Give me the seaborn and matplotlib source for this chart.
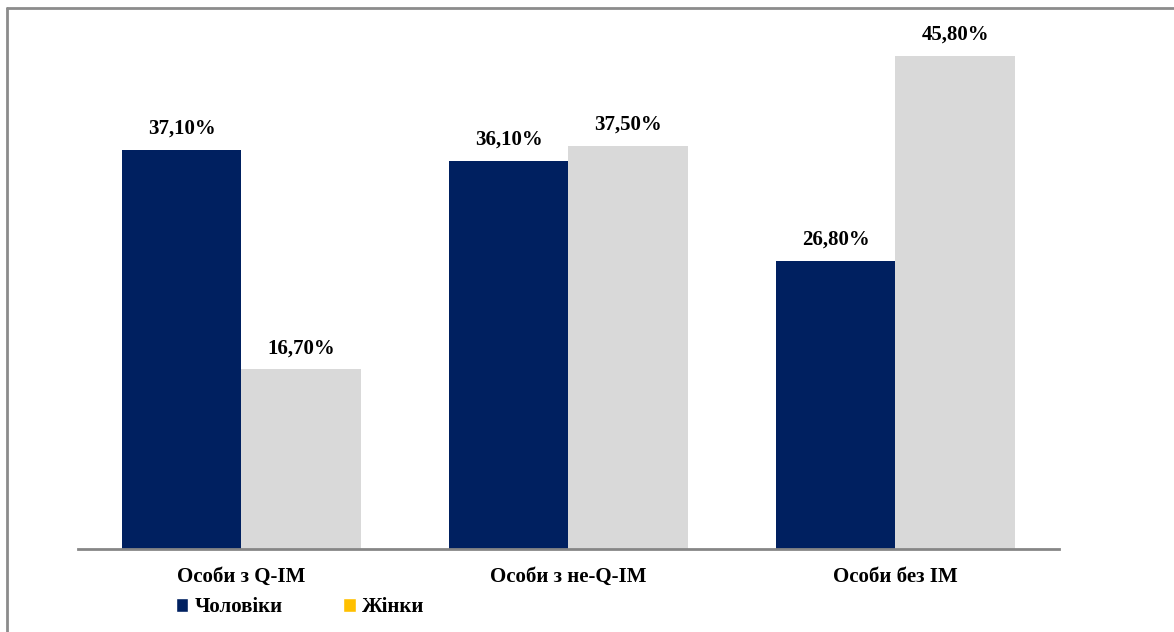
import pandas as pd
import matplotlib
matplotlib.use('Agg')
import matplotlib.pyplot as plt
import seaborn as sns
from matplotlib.patches import Patch
from matplotlib.lines import Line2D

# --- data ---
categories = ['Особи з Q-IM', 'Особи з не-Q-IM', 'Особи без IM']
men = [37.1, 36.1, 26.8]
women = [16.7, 37.5, 45.8]
series = ['Чоловіки', 'Жінки']

df = pd.DataFrame({
    'Категорія': categories * 2,
    'Стать': [series[0]] * 3 + [series[1]] * 3,
    'Частка': men + women,
})

sns.set_style('white')
plt.rcParams['font.family'] = ['Liberation Serif', 'DejaVu Serif']
plt.rcParams['font.weight'] = 'bold'
plt.rcParams['text.color'] = 'black'
plt.rcParams['xtick.color'] = 'black'

navy = '#002060'
grey = '#D9D9D9'
gold = '#FFC000'

fig = plt.figure(figsize=(11.74, 6.32), dpi=100)
ax = fig.add_axes([0.0664, 0.1313, 0.8356, 0.8513])

sns.barplot(data=df, x='Категорія', y='Частка', hue='Стать',
            palette=[navy, grey], width=0.73, gap=0, saturation=1,
            linewidth=0, legend=False, ax=ax)

for cont in ax.containers:
    ax.bar_label(cont, labels=[f'{v:.2f}%'.replace('.', ',') for v in cont.datavalues],
                 padding=8, fontsize=15, fontweight='bold', color='black')

ax.set_xlim(-0.5, 2.5)
ax.set_ylim(0, 50)
ax.set_xlabel('')
ax.set_ylabel('')
ax.set_yticks([])
ax.tick_params(axis='x', length=0, pad=13, labelsize=15, labelcolor='black')
for lbl in ax.get_xticklabels():
    lbl.set_fontweight('bold')
for s in ['top', 'right', 'left']:
    ax.spines[s].set_visible(False)
ax.spines['bottom'].set_color('#868686')
ax.spines['bottom'].set_linewidth(2)

# legend at the bottom-left
handles = [Patch(facecolor=navy), Patch(facecolor=gold)]
leg = fig.legend(handles, series, loc='center left', bbox_to_anchor=(0.141, 0.039),
                 ncol=2, frameon=False, handlelength=0.6, handleheight=0.6,
                 handletextpad=0.3, columnspacing=2.9, borderpad=0,
                 prop={'weight': 'bold', 'size': 15})
for t in leg.get_texts():
    t.set_color('black')

# outer frame (left and top edges)
fig.add_artist(Line2D([7 / 1174, 7 / 1174], [0, 1 - 8 / 632], color='#8c8c8c', lw=2))
fig.add_artist(Line2D([7 / 1174, 1], [1 - 8 / 632, 1 - 8 / 632], color='#8c8c8c', lw=2))

fig.savefig('out.png', dpi=100)
